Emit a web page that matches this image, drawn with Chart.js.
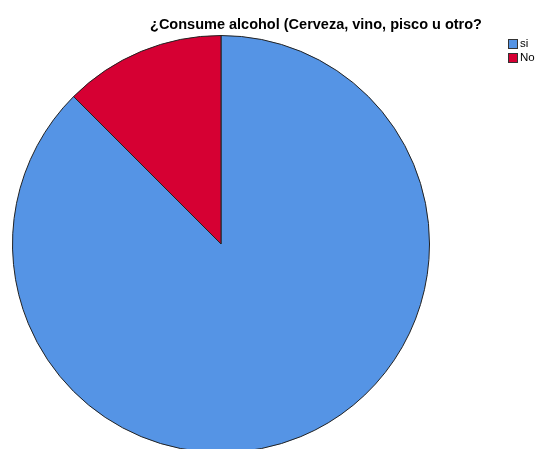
<!DOCTYPE html>
<html>
<head>
<meta charset="utf-8">
<script src="https://cdn.jsdelivr.net/npm/chart.js@4/dist/chart.umd.min.js"></script>
<style>
  html, body { margin: 0; padding: 0; background: #fff; overflow: hidden; }
  #wrap { width: 536px; height: 470px; position: relative; }
</style>
</head>
<body>
<div id="wrap"><canvas id="c" width="536" height="470"></canvas></div>
<script>
const chartTitle = '¿Consume alcohol (Cerveza, vino, pisco u otro?';
const categories = ['si', 'No'];
const percentages = [87.5, 12.5];
const sliceColors = ['#5594e5', '#d60033'];

// Title and legend drawn at fixed spots so the pie keeps its own area
const decorations = {
  id: 'decorations',
  afterDraw(chart) {
    const ctx = chart.ctx;
    ctx.save();
    ctx.fillStyle = '#000';
    ctx.font = 'bold 14.5px "Liberation Sans", Arial, sans-serif';
    ctx.textAlign = 'center';
    ctx.textBaseline = 'middle';
    ctx.fillText(chartTitle, 316, 25);

    const ds = chart.data.datasets[0];
    ctx.font = '11.5px "Liberation Sans", Arial, sans-serif';
    ctx.textAlign = 'left';
    chart.data.labels.forEach((lab, i) => {
      const y = 39 + i * 14;
      ctx.fillStyle = ds.backgroundColor[i];
      ctx.fillRect(508, y, 10, 10);
      ctx.strokeStyle = '#333';
      ctx.lineWidth = 1;
      ctx.strokeRect(508.5, y + 0.5, 9, 9);
      ctx.fillStyle = '#000';
      ctx.fillText(lab, 520, y + 5);
    });
    ctx.restore();
  }
};

new Chart(document.getElementById('c'), {
  type: 'pie',
  data: {
    labels: categories,
    datasets: [{
      data: percentages,
      backgroundColor: sliceColors,
      borderColor: '#222',
      borderWidth: 1
    }]
  },
  options: {
    responsive: false,
    animation: false,
    layout: { padding: { left: 12, right: 106, top: 35, bottom: 17 } },
    plugins: {
      legend: { display: false },
      title: { display: false },
      tooltip: { enabled: false }
    }
  },
  plugins: [decorations]
});
</script>
</body>
</html>
